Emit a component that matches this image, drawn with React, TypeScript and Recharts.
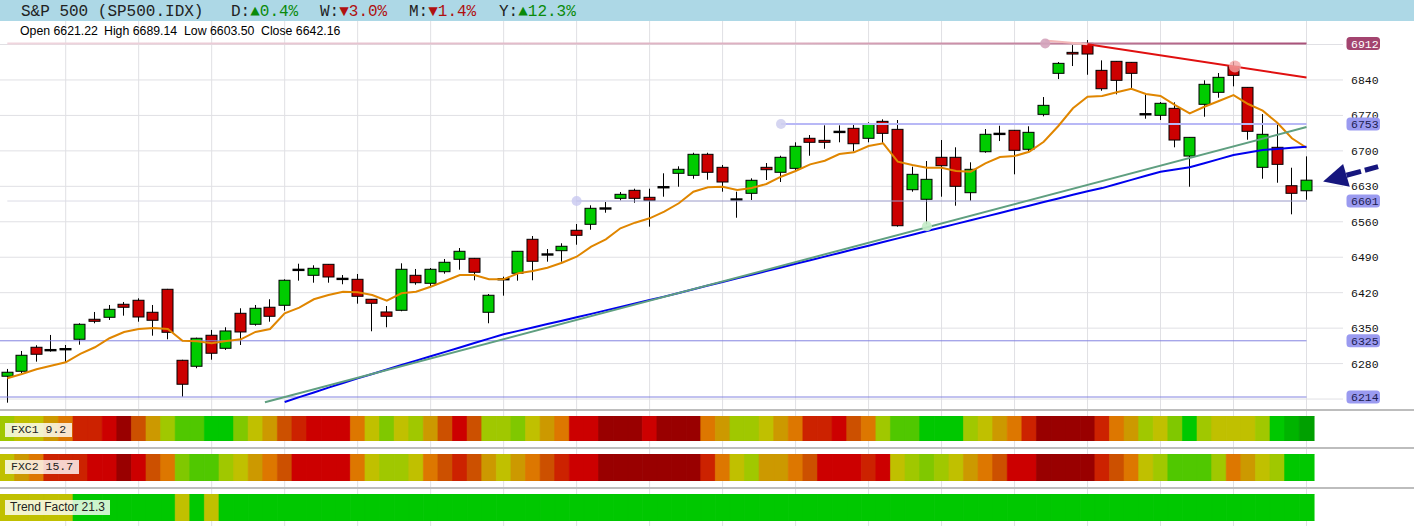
import React from 'react';
import {
  ComposedChart,
  BarChart,
  Bar,
  Line,
  XAxis,
  YAxis,
  CartesianGrid,
  ReferenceLine,
  ReferenceDot,
  Cell,
} from 'recharts';

// ---------- data ----------
const opens = [
  6255.0, 6264.8, 6312.2, 6306.9, 6308.8, 6328.0, 6367.5, 6371.4, 6397.1, 6405.0,
  6381.3, 6426.7, 6286.5, 6274.7, 6335.9, 6310.2, 6379.3, 6357.6, 6391.2, 6395.1,
  6465.4, 6454.3, 6476.0, 6447.6, 6446.4, 6407.0, 6381.9, 6385.2, 6454.3, 6438.5,
  6461.4, 6485.9, 6487.9, 6381.3, 6447.0, 6458.3, 6525.4, 6495.8, 6502.9, 6543.2,
  6555.0, 6586.6, 6606.3, 6622.1, 6608.3, 6628.6, 6655.7, 6651.7, 6693.2, 6667.5,
  6604.4, 6616.2, 6667.5, 6657.7, 6665.5, 6724.8, 6720.8, 6737.8, 6744.5, 6724.8,
  6758.3, 6742.5, 6623.3, 6604.4, 6687.3, 6687.3, 6617.4, 6698.3, 6733.9, 6740.6,
  6703.1, 6772.1, 6853.1, 6894.5, 6912.3, 6859.0, 6876.8, 6874.8, 6772.7, 6770.2,
  6784.0, 6689.8, 6791.9, 6815.6, 6866.9, 6825.4, 6667.5, 6707.0, 6631.2, 6621.22,
];
const highs = [
  6269.4, 6304.9, 6316.2, 6336.5, 6316.7, 6359.6, 6381.9, 6395.7, 6401.6, 6408.9,
  6395.7, 6427.5, 6287.5, 6331.2, 6346.4, 6351.7, 6389.2, 6395.7, 6407.0, 6446.4,
  6477.2, 6474.1, 6476.6, 6454.9, 6456.9, 6407.5, 6393.7, 6478.0, 6466.8, 6468.7,
  6486.5, 6508.2, 6488.5, 6417.4, 6451.6, 6502.3, 6531.9, 6506.2, 6517.5, 6555.6,
  6592.5, 6599.0, 6618.8, 6625.3, 6625.3, 6655.7, 6669.5, 6696.3, 6696.3, 6672.1,
  6619.4, 6645.8, 6676.0, 6690.4, 6716.9, 6731.3, 6750.4, 6750.4, 6753.0, 6756.4,
  6762.3, 6760.9, 6668.7, 6680.0, 6721.4, 6707.0, 6677.4, 6743.1, 6749.6, 6741.2,
  6748.5, 6806.3, 6875.4, 6908.9, 6918.8, 6878.7, 6877.4, 6875.4, 6811.6, 6796.4,
  6795.8, 6727.3, 6839.3, 6853.7, 6876.0, 6826.0, 6772.7, 6753.0, 6666.7, 6689.14,
];
const lows = [
  6202.8, 6260.9, 6283.8, 6303.5, 6283.2, 6317.3, 6359.6, 6366.1, 6374.6, 6362.7,
  6335.1, 6328.0, 6214.7, 6270.8, 6287.7, 6306.9, 6316.7, 6354.8, 6362.7, 6384.5,
  6443.7, 6439.7, 6439.7, 6436.6, 6398.3, 6343.8, 6351.7, 6383.3, 6435.8, 6430.6,
  6457.5, 6465.4, 6444.5, 6359.6, 6414.1, 6443.7, 6444.5, 6481.2, 6481.2, 6514.7,
  6544.3, 6577.9, 6602.4, 6597.6, 6550.3, 6609.5, 6629.2, 6645.0, 6643.0, 6619.4,
  6568.0, 6603.0, 6642.5, 6638.5, 6658.8, 6690.4, 6704.2, 6716.9, 6699.1, 6716.9,
  6716.1, 6550.3, 6619.4, 6555.0, 6609.5, 6591.7, 6601.6, 6696.3, 6719.4, 6653.7,
  6698.3, 6768.2, 6841.8, 6867.5, 6850.3, 6818.7, 6811.6, 6822.7, 6763.5, 6760.9,
  6707.0, 6629.2, 6767.4, 6804.9, 6827.4, 6722.0, 6645.0, 6637.1, 6574.7, 6603.50,
];
const closes = [
  6262.9, 6296.4, 6298.4, 6306.9, 6308.8, 6357.6, 6363.5, 6387.2, 6391.2, 6372.0,
  6365.5, 6341.8, 6239.2, 6330.0, 6300.4, 6344.4, 6342.4, 6389.2, 6373.4, 6444.5,
  6465.4, 6468.1, 6451.0, 6447.6, 6412.9, 6399.1, 6373.4, 6466.2, 6439.7, 6466.2,
  6480.0, 6501.7, 6460.3, 6414.9, 6447.0, 6501.7, 6482.0, 6495.8, 6511.6, 6533.3,
  6586.6, 6586.6, 6614.2, 6606.3, 6602.4, 6628.6, 6663.6, 6693.2, 6657.7, 6638.5,
  6604.4, 6641.9, 6662.8, 6687.3, 6709.0, 6716.9, 6716.9, 6737.8, 6714.1, 6753.0,
  6734.6, 6552.2, 6653.7, 6643.8, 6670.7, 6630.0, 6663.6, 6732.7, 6733.9, 6701.1,
  6736.6, 6789.9, 6872.8, 6891.2, 6891.2, 6822.7, 6839.3, 6853.1, 6772.7, 6793.9,
  6721.4, 6726.7, 6831.4, 6845.2, 6849.1, 6738.6, 6732.7, 6673.4, 6616.2, 6642.16,
];
// short moving average (orange), one value per candle
const maFast = [
  6251.0, 6259.5, 6268.8, 6275.9, 6282.6, 6299.0, 6312.2, 6330.0, 6342.4, 6348.3,
  6350.3, 6348.3, 6325.2, 6324.0, 6320.1, 6324.6, 6328.0, 6342.4, 6348.3, 6379.3,
  6390.4, 6407.0, 6415.4, 6422.0, 6420.8, 6415.4, 6404.2, 6418.8, 6422.0, 6431.8,
  6443.1, 6454.9, 6454.9, 6446.4, 6446.4, 6458.3, 6462.8, 6469.3, 6479.2, 6491.0,
  6510.8, 6525.4, 6547.1, 6558.2, 6566.8, 6579.9, 6596.5, 6619.4, 6628.0, 6629.2,
  6622.7, 6626.7, 6634.6, 6649.0, 6660.2, 6673.4, 6680.6, 6693.8, 6697.1, 6709.6,
  6714.9, 6678.6, 6672.1, 6666.7, 6666.7, 6660.2, 6658.8, 6675.4, 6687.9, 6689.8,
  6698.3, 6718.1, 6749.1, 6784.0, 6806.9, 6808.3, 6815.6, 6822.7, 6812.2, 6808.3,
  6790.5, 6774.1, 6787.1, 6798.4, 6810.2, 6792.5, 6779.3, 6755.6, 6724.8, 6706.2,
];
// long moving average (blue), starts at candle 19
const maSlowStart = 19;
const maSlow = [
  6204.2, 6213.7, 6223.0, 6232.5, 6241.7, 6250.8, 6259.5, 6268.2, 6277.1, 6285.8, 6294.4,
  6303.1, 6311.8, 6320.5, 6329.2, 6337.9, 6344.6, 6351.3, 6358.0, 6364.7, 6371.4,
  6378.1, 6385.0, 6391.8, 6398.7, 6405.4, 6412.2, 6419.5, 6426.6, 6434.0, 6441.1,
  6448.2, 6455.5, 6462.6, 6469.7, 6477.0, 6484.1, 6491.2, 6498.5, 6505.6, 6512.7,
  6520.0, 6527.2, 6534.3, 6541.6, 6548.7, 6555.8, 6563.1, 6570.2, 6577.3, 6584.6,
  6591.7, 6599.0, 6606.1, 6613.2, 6620.4, 6626.5, 6634.6, 6642.7, 6650.7, 6658.8,
  6663.2, 6667.5, 6675.6, 6683.7, 6691.8, 6696.7, 6701.7, 6703.8, 6706.0, 6708.2,
];
// trend lines: [index, price] end points
const supportLine = [[17.65, 6203.6], [89, 6747.0]];
const resistFade = [[71.1, 6918.0], [74, 6910.6]];
const resistLine = [[74, 6910.6], [89, 6845.0]];
const supportTouch = [63, 6551.0];
const resistTouch = [84.1, 6866.4];
// horizontal levels
const levelValues = [6912, 6753, 6601, 6325, 6214];
const levelAnchor = [71.1, 53, 39, -0.5, -0.5];
// axis ticks
const priceTicks = [6210, 6280, 6350, 6420, 6490, 6560, 6630, 6700, 6770, 6840, 6910];
const gridIdx = [4, 9, 14, 19, 24, 29, 34, 39, 44, 49, 54, 59, 64, 69, 74, 79, 84, 89];
const slotCount = 92;
// indicator strips: colour level per candle (0 = dark red ... 12 = dark green)
const fxc1 = [
  7, 6, 6, 5, 4, 2, 2, 1, 0, 3,
  5, 7, 9, 9, 10, 10, 8, 6, 5, 3,
  2, 1, 1, 1, 4, 6, 8, 6, 7, 5,
  3, 1, 3, 7, 7, 8, 6, 5, 4, 1,
  1, 0, 0, 0, 1, 0, 0, 0, 4, 5,
  7, 7, 6, 5, 4, 2, 2, 1, 3, 4,
  7, 9, 9, 10, 10, 10, 7, 6, 5, 4,
  2, 0, 0, 0, 0, 2, 4, 5, 7, 6,
  8, 10, 7, 6, 6, 6, 7, 10, 11, 12,
];
const fxc2 = [
  6, 5, 4, 2, 2, 2, 1, 1, 0, 1,
  3, 4, 8, 9, 9, 7, 6, 5, 4, 3,
  1, 1, 1, 1, 4, 6, 7, 7, 6, 4,
  3, 2, 3, 5, 6, 5, 4, 3, 2, 1,
  1, 0, 0, 0, 0, 0, 0, 0, 2, 4,
  6, 7, 5, 5, 4, 3, 1, 1, 1, 2,
  1, 6, 7, 8, 7, 6, 5, 4, 3, 1,
  1, 0, 0, 0, 0, 2, 3, 4, 6, 7,
  9, 9, 9, 7, 4, 5, 6, 7, 10, 10,
];
const trendFactor = [
  6, 6, 6, 6, 6, 10, 10, 10, 10, 10, 10, 10, 6, 10, 6,
  10, 10, 10, 10, 10, 10, 10, 10, 10, 10, 10, 10, 10, 10, 10,
  10, 10, 10, 10, 10, 10, 10, 10, 10, 10, 10, 10, 10, 10, 10,
  10, 10, 10, 10, 10, 10, 10, 10, 10, 10, 10, 10, 10, 10, 10,
  10, 10, 10, 10, 10, 10, 10, 10, 10, 10, 10, 10, 10, 10, 10,
  10, 10, 10, 10, 10, 10, 10, 10, 10, 10, 10, 10, 10, 10, 10,
];
const palette = [
  '#990000', '#cc0000', '#cc2200', '#cc5000', '#dd7700', '#cc9900', '#c0c000',
  '#a0c800', '#80c800', '#50c800', '#00c800', '#00b400', '#00a000',
];

// ---------- derived tables ----------
const n = opens.length;
const data = Array.from({ length: slotCount }, (_, i) =>
  i < n
    ? {
        i,
        open: opens[i],
        high: highs[i],
        low: lows[i],
        close: closes[i],
        range: [lows[i], highs[i]],
        maFast: maFast[i],
        maSlow: i >= maSlowStart ? maSlow[i - maSlowStart] : null,
      }
    : { i, range: null, maFast: null, maSlow: null },
);
const stripData = (levels: number[]) =>
  Array.from({ length: slotCount }, (_, i) => ({ i, v: i < levels.length ? 1 : null, lvl: levels[i] }));

const MONO = '"Liberation Mono", "DejaVu Sans Mono", monospace';
const SANS = '"Liberation Sans", Arial, sans-serif';
const W = 1414;
const AXIS_W = 71;

function Candle(props: any) {
  const { x, y, width, height, payload } = props;
  if (!payload || payload.open == null || x == null) return <g />;
  const top = Math.min(y, y + height);
  const h = Math.abs(height);
  const span = payload.high - payload.low;
  const k = span > 0 ? h / span : 0;
  const yOf = (v: number) => top + (payload.high - v) * k;
  const cx = Math.round(x + width / 2 - 0.5) + 0.5;
  const yO = yOf(payload.open);
  const yC = yOf(payload.close);
  const bTop = Math.min(yO, yC);
  const bH = Math.abs(yO - yC);
  const up = payload.close >= payload.open;
  const bx = cx - 6;
  return (
    <g>
      <line x1={cx} x2={cx} y1={top} y2={top + h} stroke="#000" strokeWidth={1} />
      {bH < 1.5 ? (
        <rect x={bx} y={bTop - 1} width={12} height={2.4} fill="#000" />
      ) : (
        <rect x={bx + 0.5} y={bTop} width={11} height={bH} fill={up ? '#00cc00' : '#cc0000'} stroke="#000" strokeWidth={1} />
      )}
    </g>
  );
}

function PriceTick(props: any) {
  const { x, y, payload } = props;
  const v = payload?.value;
  const isLevel = levelValues.includes(v);
  if (!isLevel && levelValues.some((l) => Math.abs(l - v) < 6)) return <g />;
  const tx = x;
  if (isLevel) {
    const top = v === levelValues[0];
    return (
      <g>
        <rect x={tx - 4.5} y={y - 6.5} width={33.5} height={13} rx={3.5} fill={top ? '#a3446f' : '#9a9af0'} />
        <text x={tx} y={y} dy="0.35em" fontFamily={MONO} fontSize={11.5} fill={top ? '#ffffff' : '#1c1c50'}>
          {v}
        </text>
      </g>
    );
  }
  return (
    <text x={tx} y={y} dy="0.35em" fontFamily={MONO} fontSize={11.5} fill="#111">
      {v}
    </text>
  );
}

function ArrowShape(props: any) {
  const { cx, cy } = props;
  if (cx == null || cy == null) return <g />;
  const c = '#16167e';
  return (
    <g>
      <line x1={cx + 40} y1={cy - 4.9} x2={cx + 71.6} y2={cy - 13.5} stroke={c} strokeWidth={5} strokeDasharray="15 4" />
      <polygon points={`${cx + 16.6},${cy + 1.4} ${cx + 36.6},${cy - 16.2} ${cx + 43.3},${cy + 6.5}`} fill={c} />
    </g>
  );
}

function Strip({ levels, top, height }: { levels: number[]; top: number; height: number }) {
  const d = stripData(levels);
  return (
    <div style={{ position: 'absolute', left: 0, top, width: W, height }}>
      <BarChart width={W} height={height} data={d} margin={{ top: 0, right: AXIS_W, bottom: 0, left: 0 }} barCategoryGap={0} barGap={0}>
        <XAxis dataKey="i" hide />
        <YAxis hide domain={[0, 1]} />
        <Bar dataKey="v" isAnimationActive={false}>
          {d.map((e) => (
            <Cell key={e.i} fill={e.lvl != null ? palette[e.lvl] : 'none'} stroke={e.lvl != null ? palette[e.lvl] : 'none'} strokeWidth={0.6} />
          ))}
        </Bar>
      </BarChart>
    </div>
  );
}

const labelBox: React.CSSProperties = {
  position: 'absolute',
  left: 5,
  height: 14,
  lineHeight: '14px',
  padding: '0 6px',
  background: 'rgba(255,255,255,0.8)',
  color: '#222',
  whiteSpace: 'pre',
};

export default function App() {
  const lvl = (k: number) => levelValues[k];
  return (
    <div style={{ position: 'relative', width: W, height: 526, background: '#fff', overflow: 'hidden' }}>
      <style>{'body{margin:0;}'}</style>
      <ComposedChart width={W} height={526} data={data} margin={{ top: 20, right: 0, bottom: 0, left: 0 }}>
        <defs>
          <linearGradient id="g6912" gradientUnits="userSpaceOnUse" x1="0%" y1="0" x2="93%" y2="0">
            <stop offset="0%" stopColor="#f0d6de" />
            <stop offset="60%" stopColor="#dcaebf" />
            <stop offset="100%" stopColor="#a85078" />
          </linearGradient>
        </defs>
        <XAxis dataKey="i" hide />
        <XAxis xAxisId="n" dataKey="i" type="number" domain={[-0.5, slotCount - 0.5]} allowDataOverflow hide />
        <YAxis
          orientation="right"
          width={AXIS_W}
          type="number"
          domain={[5959.3, 6958.4]}
          allowDataOverflow
          ticks={[...priceTicks, ...levelValues]}
          interval={0}
          axisLine={false}
          tickLine={false}
          tickSize={0}
          tickMargin={8}
          tick={<PriceTick />}
        />
        <CartesianGrid xAxisId="n" horizontalValues={priceTicks} verticalValues={gridIdx} stroke="#e0e0e4" strokeWidth={1} />

        {/* horizontal level lines */}
        <ReferenceLine xAxisId="n" segment={[{ x: 0, y: lvl(2) }, { x: levelAnchor[2], y: lvl(2) }]} stroke="#dcdce6" strokeWidth={1} ifOverflow="visible" />
        <ReferenceLine xAxisId="n" segment={[{ x: levelAnchor[2], y: lvl(2) }, { x: 89, y: lvl(2) }]} stroke="#9a9ac8" strokeWidth={1} ifOverflow="visible" />
        <ReferenceLine xAxisId="n" segment={[{ x: levelAnchor[1], y: lvl(1) }, { x: 89, y: lvl(1) }]} stroke="#b8b8f6" strokeWidth={2} ifOverflow="visible" />
        <ReferenceLine xAxisId="n" segment={[{ x: levelAnchor[3], y: lvl(3) }, { x: 89, y: lvl(3) }]} stroke="#8484e0" strokeWidth={1} ifOverflow="visible" />
        <ReferenceLine xAxisId="n" segment={[{ x: levelAnchor[4], y: lvl(4) }, { x: 89, y: lvl(4) }]} stroke="#8484e0" strokeWidth={1} ifOverflow="visible" />
        <ReferenceLine xAxisId="n" segment={[{ x: 0, y: lvl(0) }, { x: 89, y: lvl(0) }]} stroke="url(#g6912)" strokeWidth={2} ifOverflow="visible" />

        <Bar dataKey="range" barSize={12} shape={(p: any) => <Candle {...p} />} isAnimationActive={false} />

        <Line dataKey="maFast" stroke="#e08600" strokeWidth={2} dot={false} activeDot={false} isAnimationActive={false} />
        <Line dataKey="maSlow" stroke="#0000ee" strokeWidth={2} dot={false} activeDot={false} isAnimationActive={false} />

        <ReferenceLine xAxisId="n" segment={supportLine.map(([x, y]) => ({ x, y }))} stroke="#5f9f80" strokeWidth={2} ifOverflow="visible" />
        <ReferenceLine xAxisId="n" segment={resistFade.map(([x, y]) => ({ x, y }))} stroke="#f3b8b8" strokeWidth={2} ifOverflow="visible" />
        <ReferenceLine xAxisId="n" segment={resistLine.map(([x, y]) => ({ x, y }))} stroke="#e01010" strokeWidth={2} ifOverflow="visible" />

        <ReferenceDot xAxisId="n" x={levelAnchor[2]} y={lvl(2)} r={5} fill="#c8c8f0" fillOpacity={0.8} stroke="none" ifOverflow="visible" />
        <ReferenceDot xAxisId="n" x={levelAnchor[1]} y={lvl(1)} r={5} fill="#d0d0f0" fillOpacity={0.9} stroke="none" ifOverflow="visible" />
        <ReferenceDot xAxisId="n" x={levelAnchor[0]} y={lvl(0)} r={5} fill="#d4a4bc" fillOpacity={0.9} stroke="none" ifOverflow="visible" />
        <ReferenceDot xAxisId="n" x={supportTouch[0]} y={supportTouch[1]} r={5} fill="#c4ecc8" fillOpacity={0.9} stroke="none" ifOverflow="visible" />
        <ReferenceDot xAxisId="n" x={resistTouch[0]} y={resistTouch[1]} r={6} fill="#f4a4a4" fillOpacity={0.8} stroke="none" ifOverflow="visible" />

        <ReferenceDot xAxisId="n" x={n - 1} y={closes[n - 1]} r={0} shape={(p: any) => <ArrowShape {...p} />} ifOverflow="visible" />
      </ComposedChart>

      {/* header bar */}
      <div style={{ position: 'absolute', left: 0, top: 0, width: W, height: 21, background: '#add8e6', fontFamily: MONO, fontSize: 16, lineHeight: '21px', color: '#222' }}>
        <span style={{ position: 'absolute', left: 21, top: 1.5, whiteSpace: 'pre' }}>S&amp;P 500 (SP500.IDX)</span>
        <span style={{ position: 'absolute', left: 231, top: 1.5, whiteSpace: 'pre' }}>
          D:<span style={{ color: '#0a8a0a' }}>▲0.4%</span>
        </span>
        <span style={{ position: 'absolute', left: 320, top: 1.5, whiteSpace: 'pre' }}>
          W:<span style={{ color: '#b01010' }}>▼3.0%</span>
        </span>
        <span style={{ position: 'absolute', left: 409, top: 1.5, whiteSpace: 'pre' }}>
          M:<span style={{ color: '#b01010' }}>▼1.4%</span>
        </span>
        <span style={{ position: 'absolute', left: 499, top: 1.5, whiteSpace: 'pre' }}>
          Y:<span style={{ color: '#0a8a0a' }}>▲12.3%</span>
        </span>
      </div>

      {/* OHLC line */}
      <div style={{ position: 'absolute', left: 0, top: 24, fontFamily: SANS, fontSize: 12.3, lineHeight: '15px', color: '#000' }}>
        <span style={{ position: 'absolute', left: 20, whiteSpace: 'pre' }}>Open {opens[n - 1].toFixed(2)}</span>
        <span style={{ position: 'absolute', left: 104, whiteSpace: 'pre' }}>High {highs[n - 1].toFixed(2)}</span>
        <span style={{ position: 'absolute', left: 184, whiteSpace: 'pre' }}>Low {lows[n - 1].toFixed(2)}</span>
        <span style={{ position: 'absolute', left: 261, whiteSpace: 'pre' }}>Close {closes[n - 1].toFixed(2)}</span>
      </div>

      {/* separators */}
      <div style={{ position: 'absolute', left: 0, top: 409, width: W, height: 2, background: '#bdbdbd' }} />
      <div style={{ position: 'absolute', left: 0, top: 447, width: W, height: 2, background: '#bdbdbd' }} />
      <div style={{ position: 'absolute', left: 0, top: 487, width: W, height: 2, background: '#bdbdbd' }} />

      {/* indicator strips */}
      <Strip levels={fxc1} top={416} height={25} />
      <Strip levels={fxc2} top={454} height={27} />
      <Strip levels={trendFactor} top={494} height={27} />

      <div style={{ ...labelBox, top: 423, fontFamily: MONO, fontSize: 11.5 }}>FXC1 9.2</div>
      <div style={{ ...labelBox, top: 460, fontFamily: MONO, fontSize: 11.5 }}>FXC2 15.7</div>
      <div style={{ ...labelBox, top: 500, height: 15, lineHeight: '15px', padding: '0 5px', fontFamily: SANS, fontSize: 12 }}>Trend Factor 21.3</div>
    </div>
  );
}
